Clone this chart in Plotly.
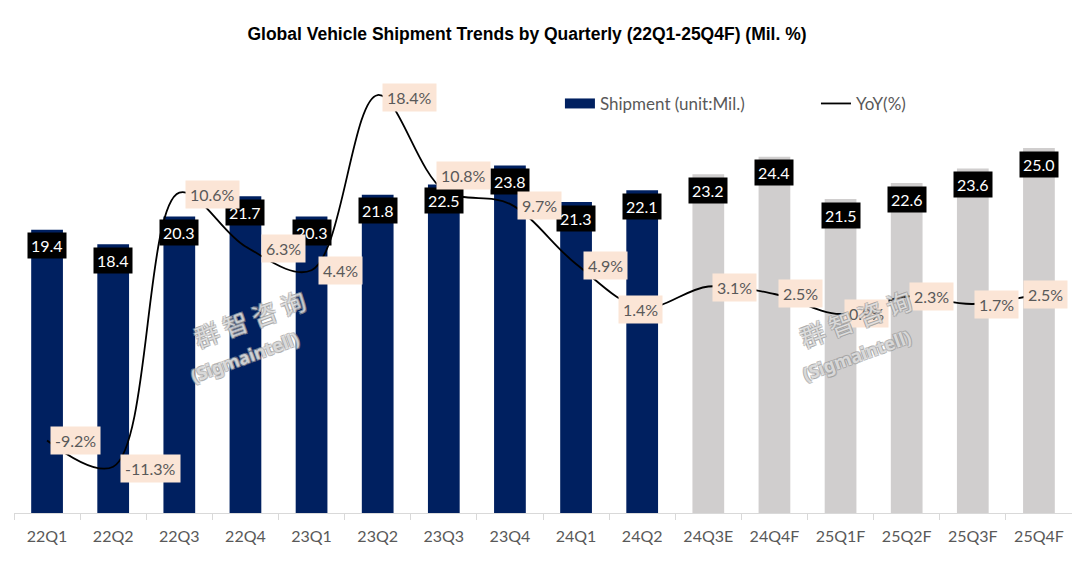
import plotly.graph_objects as go

quarters = ["22Q1", "22Q2", "22Q3", "22Q4", "23Q1", "23Q2", "23Q3", "23Q4",
            "24Q1", "24Q2", "24Q3E", "24Q4F", "25Q1F", "25Q2F", "25Q3F", "25Q4F"]
shipment = [19.4, 18.4, 20.3, 21.7, 20.3, 21.8, 22.5, 23.8,
            21.3, 22.1, 23.2, 24.4, 21.5, 22.6, 23.6, 25.0]
yoy = [-9.2, -11.3, 10.6, 6.3, 4.4, 18.4, 10.8, 9.7,
       4.9, 1.4, 3.1, 2.5, 0.9, 2.3, 1.7, 2.5]

# label offsets (px) for the YoY boxes relative to their points
yoy_dx = [28, 37, 33, 38, 29, 32, 20, 30, 29, -2, 26, 26, 26, 25, 24, 7]
yoy_dy = [0, -2, -2, -2, 0, -2, 15, -2, -2, -2, -1, 1, 1, 0, 0, 0]

NAVY = "#002060"
GRAY = "#D0CECE"
PEACH = "#FBE5D6"
FONT = "Lato"

bar_colors = [GRAY if q.endswith(("E", "F")) else NAVY for q in quarters]

fig = go.Figure()
fig.add_trace(go.Bar(
    x=quarters, y=shipment, name="Shipment (unit:Mil.)",
    marker=dict(color=bar_colors, line=dict(width=0)),
    yaxis="y", hoverinfo="x+y", showlegend=False,
))
# legend-only entry so the swatch is a wide rectangle like the original
fig.add_trace(go.Scatter(
    x=[None], y=[None], name="Shipment (unit:Mil.)", mode="lines",
    line=dict(color=NAVY, width=10), yaxis="y", hoverinfo="skip", legend="legend",
))
fig.add_trace(go.Scatter(
    x=quarters, y=yoy, name="YoY(%)", mode="lines",
    line=dict(color="black", width=1.8, shape="spline", smoothing=1.0),
    yaxis="y2", legend="legend2",
))

annotations = []
for q, v in zip(quarters, shipment):
    annotations.append(dict(
        x=q, y=v, xref="x", yref="y", text=f"{v:.1f}", showarrow=False,
        yshift=-16, bgcolor="black", borderpad=3,
        font=dict(family=FONT, size=16, color="white"),
    ))
for q, v, dx, dy in zip(quarters, yoy, yoy_dx, yoy_dy):
    annotations.append(dict(
        x=q, y=v, xref="x", yref="y2", text=f"{v:.1f}%", showarrow=False,
        xshift=dx, yshift=dy, bgcolor=PEACH, borderpad=4,
        font=dict(family=FONT, size=16, color="#595959"),
    ))

# watermarks
outline = "1px 1px 0 #9a9a9a, -1px -1px 0 #9a9a9a, 1px -1px 0 #9a9a9a, -1px 1px 0 #9a9a9a"
wm_font_cn = dict(family="Noto Sans CJK SC", size=25, color="rgba(255,255,255,0.6)", shadow=outline)
wm_font_en = dict(family="Noto Sans", size=18, color="rgba(255,255,255,0.6)", weight="bold", shadow=outline)
for (cx, cy), (ex, ey) in (((0.223, 0.445), (0.218, 0.356)), ((0.795, 0.445), (0.797, 0.36))):
    annotations.append(dict(x=cx, y=cy, xref="paper", yref="paper",
                            xanchor="center", yanchor="middle",
                            text="群 智 咨 询", showarrow=False, textangle=-20, font=wm_font_cn))
    annotations.append(dict(x=ex, y=ey, xref="paper", yref="paper",
                            xanchor="center", yanchor="middle",
                            text="(Sigmaintell)", showarrow=False, textangle=-20, font=wm_font_en))

legend_font = dict(family=FONT, size=17, color="#595959")

fig.update_layout(
    width=1064, height=547,
    margin=dict(l=6, r=0, t=67, b=42),
    paper_bgcolor="white", plot_bgcolor="white",
    title=dict(text="<b>Global Vehicle Shipment Trends by Quarterly (22Q1-25Q4F) (Mil. %)</b>",
               x=519 / 1064, xanchor="center", xref="container",
               y=1 - 26 / 547, yanchor="middle", yref="container",
               font=dict(family="Liberation Sans", size=17.5, color="black")),
    bargap=0.52,
    showlegend=True,
    legend=dict(orientation="h", x=0.516, y=0.934, xanchor="left", yanchor="middle",
                font=legend_font, bgcolor="rgba(0,0,0,0)"),
    legend2=dict(orientation="h", x=0.758, y=0.934, xanchor="left", yanchor="middle",
                 font=legend_font, bgcolor="rgba(0,0,0,0)"),
    xaxis=dict(type="category", showline=True, linecolor="#D9D9D9", linewidth=1,
               ticks="outside", tickson="boundaries", ticklen=6, tickcolor="#D9D9D9",
               ticklabelstandoff=9,
               tickfont=dict(family=FONT, size=16, color="#595959"),
               showgrid=False, zeroline=False),
    yaxis=dict(range=[0, 30], visible=False, showgrid=False, zeroline=False),
    yaxis2=dict(range=[-15, 20], overlaying="y", side="right", visible=False,
                showgrid=False, zeroline=False),
    annotations=annotations,
)

fig.write_html("out.html")
